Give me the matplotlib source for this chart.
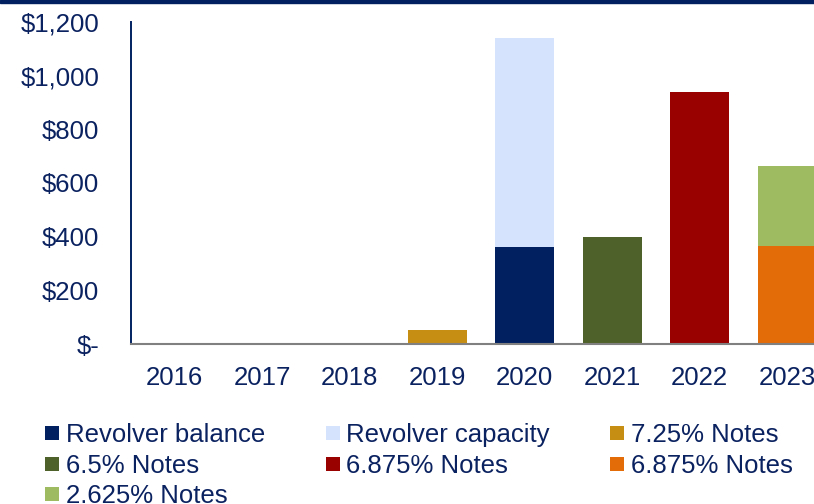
import numpy as np
import matplotlib
matplotlib.use('Agg')
import matplotlib.pyplot as plt
from matplotlib.lines import Line2D
from matplotlib.patches import Rectangle
from matplotlib.ticker import FuncFormatter

plt.rcParams['font.family'] = ['Liberation Sans', 'DejaVu Sans']

# Debt maturity data ($ millions)
years = ['2016', '2017', '2018', '2019', '2020', '2021', '2022', '2023']
revolver_balance = [0, 0, 0, 0, 362, 0, 0, 0]
revolver_capacity = [0, 0, 0, 0, 778, 0, 0, 0]
notes_725 = [0, 0, 0, 52, 0, 0, 0, 0]
notes_65 = [0, 0, 0, 0, 0, 400, 0, 0]
notes_6875_a = [0, 0, 0, 0, 0, 0, 940, 0]
notes_6875_b = [0, 0, 0, 0, 0, 0, 0, 365]
notes_2625 = [0, 0, 0, 0, 0, 0, 0, 300]
y_ticks = [0, 200, 400, 600, 800, 1000, 1200]

NAVY = '#002060'
TEXT = '#0B2260'

series = [
    ('Revolver balance', revolver_balance, '#002060'),
    ('Revolver capacity', revolver_capacity, '#D6E3FC'),
    ('7.25% Notes', notes_725, '#C78E14'),
    ('6.5% Notes', notes_65, '#4F612A'),
    ('6.875% Notes', notes_6875_a, '#990000'),
    ('6.875% Notes', notes_6875_b, '#E36C09'),
    ('2.625% Notes', notes_2625, '#9FBB61'),
]

fig = plt.figure(figsize=(8.14, 5.04), dpi=100)
ax = fig.add_axes([131 / 814, 160 / 504, 700 / 814, 322 / 504])

x = np.arange(len(years))
bottom = np.zeros(len(years))
for name, vals, col in series:
    vals = np.array(vals, dtype=float)
    ax.bar(x, vals, width=0.67, bottom=bottom, color=col, linewidth=0)
    bottom += vals

ax.set_xlim(-0.5, len(years) - 0.5)
ax.set_ylim(0, 1200)
ax.set_yticks(y_ticks)
ax.yaxis.set_major_formatter(FuncFormatter(lambda v, p: '$-' if v == 0 else f'${v:,.0f}'))
ax.set_xticks(x)
ax.set_xticklabels(years)
ax.tick_params(axis='y', length=0, pad=23, labelsize=18.5, labelcolor=TEXT)
ax.tick_params(axis='x', length=0, pad=16, labelsize=18.5, labelcolor=TEXT)

for s in ['top', 'right']:
    ax.spines[s].set_visible(False)
ax.spines['left'].set_color(NAVY)
ax.spines['left'].set_linewidth(1.4)
ax.spines['bottom'].set_color('#808080')
ax.spines['bottom'].set_linewidth(1.5)

# navy band across the top
fig.patches.append(Rectangle((0, 1 - 3 / 504), 1, 3 / 504, transform=fig.transFigure,
                             color=NAVY, zorder=5))

# legend, filled row by row (matplotlib fills column-first)
handles = {name + col: Line2D([], [], marker='s', linestyle='none', markersize=10,
                              markerfacecolor=col, markeredgewidth=0, label=name)
           for name, vals, col in series}
order = [0, 3, 6, 1, 4, 2, 5]
hs = [handles[series[i][0] + series[i][2]] for i in order]
fig.legend(handles=hs, labels=[series[i][0] for i in order], ncol=3,
           loc='upper left', bbox_to_anchor=(45 / 814, 1 - 423 / 504),
           frameon=False, fontsize=18.5, labelcolor=TEXT,
           handlelength=0.55, handletextpad=0.25, columnspacing=2.36,
           labelspacing=0.26, borderpad=0, borderaxespad=0)

fig.savefig('out.png', dpi=100)
